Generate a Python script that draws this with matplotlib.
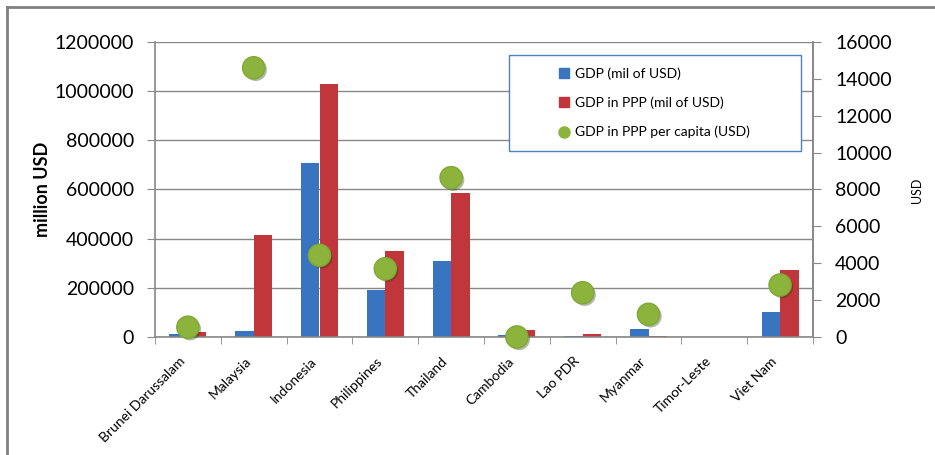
import matplotlib
matplotlib.use('Agg')
import matplotlib.pyplot as plt
import matplotlib.patheffects as pe
import matplotlib.transforms as mtrans
from matplotlib.lines import Line2D
from matplotlib.patches import Rectangle
import numpy as np

# data
countries = ['Brunei Darussalam', 'Malaysia', 'Indonesia', 'Philippines', 'Thailand',
             'Cambodia', 'Lao PDR', 'Myanmar', 'Timor-Leste', 'Viet Nam']
gdp = [12000, 25000, 708000, 191000, 309000, 9000, 5000, 34000, 500, 103000]
gdp_ppp = [20000, 415000, 1029000, 350000, 587000, 28000, 13000, 5000, 1500, 273000]
ppp_per_capita = [530, 14600, 4430, 3700, 8640, 0, 2400, 1230, np.nan, 2820]

left_ticks = [0, 200000, 400000, 600000, 800000, 1000000, 1200000]
right_ticks = [0, 2000, 4000, 6000, 8000, 10000, 12000, 14000, 16000]

COLORS = {
    'gdp': '#3874c0',
    'ppp': '#c0363a',
    'cap': '#8cb43c',
    'grid': '#888888',
}

FONT = 'Lato'
W, H = 935, 455
DPI = 100

fig = plt.figure(figsize=(W / DPI, H / DPI), dpi=DPI)
ax = fig.add_axes([155 / W, 118 / H, 658 / W, 295 / H])

x = np.arange(len(countries))
bw = 0.28
ax.bar(x - bw / 2, gdp, bw, color=COLORS['gdp'], zorder=2)
ax.bar(x + bw / 2, gdp_ppp, bw, color=COLORS['ppp'], zorder=2)

ax.set_xlim(-0.5, len(countries) - 0.5)
ax.set_ylim(0, 1200000)
ax.set_yticks(left_ticks)
ax.set_yticklabels([str(v) for v in left_ticks], fontsize=14, family=FONT)
ax.yaxis.grid(True, color=COLORS['grid'], linewidth=1)
ax.set_axisbelow(True)

# category labels at centres, tick marks at boundaries
ax.set_xticks(x)
ax.set_xticklabels(countries, rotation=45, ha='right', va='center',
                   rotation_mode='anchor', fontsize=10, family=FONT)
ax.tick_params(axis='x', which='major', length=0, pad=16)
shift = mtrans.ScaledTranslation(-5 / DPI, 0, fig.dpi_scale_trans)
for lbl in ax.get_xticklabels():
    lbl.set_transform(lbl.get_transform() + shift)
ax.set_xticks(np.arange(len(countries) + 1) - 0.5, minor=True)
ax.tick_params(axis='x', which='minor', length=5, color=COLORS['grid'])
ax.tick_params(axis='y', length=6, color=COLORS['grid'], pad=9)

ax.spines['top'].set_visible(False)
for s in ['left', 'bottom', 'right']:
    ax.spines[s].set_color(COLORS['grid'])
    ax.spines[s].set_linewidth(1.2)

# per-capita dots on the secondary axis
ax2 = ax.twinx()
ax2.plot(x, ppp_per_capita, 'o', color=COLORS['cap'], markersize=16,
         markeredgecolor='#7fa834', markeredgewidth=1, clip_on=False, zorder=5,
         path_effects=[pe.SimplePatchShadow(offset=(1.5, -1.5), alpha=0.35), pe.Normal()])
ax2.set_ylim(0, 16000)
ax2.set_yticks(right_ticks)
ax2.set_yticklabels([str(v) for v in right_ticks], fontsize=14, family=FONT)
ax2.tick_params(axis='y', length=6, color=COLORS['grid'], pad=10)
for s in ['top', 'left', 'bottom']:
    ax2.spines[s].set_visible(False)
ax2.spines['right'].set_color(COLORS['grid'])
ax2.spines['right'].set_linewidth(1.2)

# axis titles
fig.text(42 / W, 1 - 189 / H, 'million USD', rotation=90, ha='center', va='center',
         fontsize=13, fontweight='bold', family=FONT)
fig.text(917 / W, 1 - 190 / H, 'USD', rotation=90, ha='center', va='center',
         fontsize=9, family=FONT)

# legend box and entries
fig.patches.append(Rectangle((509 / W, 1 - 151 / H), 292 / W, 96 / H,
                             transform=fig.transFigure, fill=True, facecolor='white',
                             edgecolor='#4f81bd', linewidth=1, zorder=10))
handles = [
    Line2D([], [], marker='s', linestyle='none', color=COLORS['gdp'], markersize=7),
    Line2D([], [], marker='s', linestyle='none', color=COLORS['ppp'], markersize=7),
    Line2D([], [], marker='o', linestyle='none', color=COLORS['cap'], markersize=8),
]
labels = ['GDP (mil of USD)', 'GDP in PPP (mil of USD)', 'GDP in PPP per capita (USD)']
leg = fig.legend(handles, labels, loc='center', bbox_to_anchor=(655 / W, 1 - 103 / H),
                 frameon=False, prop={'family': FONT, 'size': 10},
                 handlelength=0.6, handletextpad=0.5, labelspacing=1.2)
leg.set_zorder(11)

# outer chart border
fig.add_artist(Line2D([7 / W, 1], [1 - 7 / H, 1 - 7 / H], transform=fig.transFigure,
                      color='#808080', linewidth=2))
fig.add_artist(Line2D([7 / W, 7 / W], [0, 1 - 7 / H], transform=fig.transFigure,
                      color='#808080', linewidth=2))

fig.savefig('out.png', dpi=DPI, facecolor='white')
